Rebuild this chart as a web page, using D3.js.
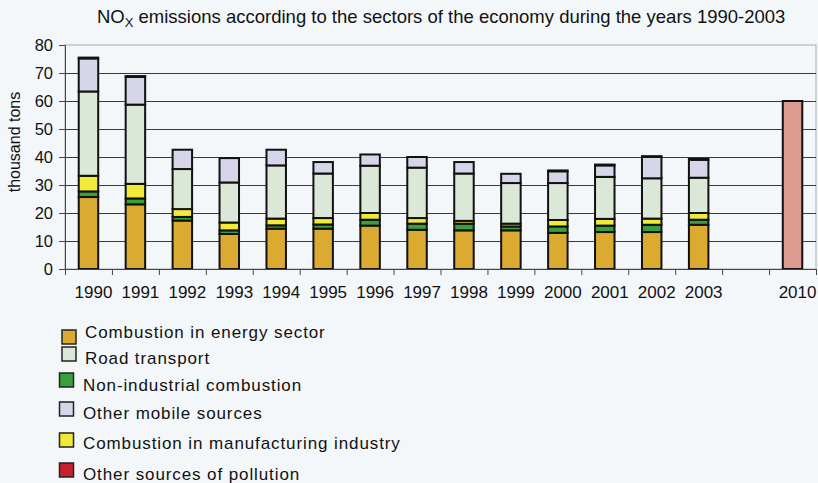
<!DOCTYPE html>
<html>
<head>
<meta charset="utf-8">
<script src="https://cdn.jsdelivr.net/npm/d3@7"></script>
<style>
  html, body { margin: 0; padding: 0; background: #f4f7f9; }
  svg { display: block; }
  text { font-family: "Liberation Sans", Arial, sans-serif; fill: #111; }
</style>
</head>
<body>
<svg id="chart" width="818" height="483"></svg>
<script>
// NOx emissions by sector, thousand tons
const years = ["1990","1991","1992","1993","1994","1995","1996","1997","1998","1999","2000","2001","2002","2003"];
const energySector   = [25.7, 23.1, 17.3, 12.5, 14.4, 14.4, 15.5, 14.0, 13.8, 13.8, 12.9, 13.2, 13.2, 15.8];
const nonIndustrial  = [ 2.0,  2.1,  1.3,  1.3,  1.2,  1.5,  2.1,  2.2,  2.4,  1.4,  2.3,  2.3,  2.6,  1.8];
const manufacturing  = [ 5.6,  5.2,  2.8,  2.8,  2.4,  2.3,  2.4,  2.0,  1.0,  1.0,  2.3,  2.4,  2.2,  2.4];
const roadTransport  = [30.1, 28.3, 14.3, 14.3, 19.0, 15.9, 16.9, 18.0, 16.9, 14.5, 13.2, 15.0, 14.4, 12.6];
const otherMobile    = [11.8,  9.9,  6.9,  8.7,  5.6,  4.1,  4.0,  3.8,  4.1,  3.3,  4.2,  4.1,  7.6,  6.4];
const otherSources   = [ 0.3,  0.3,  0.0,  0.0,  0.0,  0.0,  0.0,  0.0,  0.0,  0.0,  0.3,  0.3,  0.3,  0.3];
const targetYear = "2010";
const targetValue = [60];
const yTicks = [0, 10, 20, 30, 40, 50, 60, 70, 80];

const seriesInfo = [
  { key: "energy",  name: "Combustion in energy sector",          values: energySector,  color: "#dbab31" },
  { key: "road",    name: "Road transport",                       values: roadTransport, color: "#dce8d7" },
  { key: "nonind",  name: "Non-industrial combustion",            values: nonIndustrial, color: "#38a03c" },
  { key: "mobile",  name: "Other mobile sources",                 values: otherMobile,   color: "#d7d5e9" },
  { key: "manuf",   name: "Combustion in manufacturing industry", values: manufacturing, color: "#f2ea38" },
  { key: "other",   name: "Other sources of pollution",           values: otherSources,  color: "#c8202e" }
];
// stacking order, bottom to top
const stackKeys = ["energy", "nonind", "manuf", "road", "mobile", "other"];
const colorOf = Object.fromEntries(seriesInfo.map(s => [s.key, s.color]));

const rows = years.map((y, i) => {
  const r = { year: y };
  seriesInfo.forEach(s => r[s.key] = s.values[i]);
  return r;
});

const svg = d3.select("#chart");
const plot = { left: 65, right: 816, top: 45, bottom: 269 };

const categories = [...years, "", targetYear];
const x = d3.scaleBand()
  .domain(categories)
  .range([plot.left, plot.right])
  .paddingInner(0.585)
  .paddingOuter(0.2925);
const y = d3.scaleLinear().domain([0, 80]).range([plot.bottom, plot.top]);

// title
const title = svg.append("text")
  .attr("x", 97).attr("y", 23)
  .style("font-size", "18.5px");
title.append("tspan").text("NO");
title.append("tspan").attr("dy", 4).style("font-size", "13px").text("X");
title.append("tspan").attr("dy", -4).text(" emissions according to the sectors of the economy during the years 1990-2003");

// plot frame
svg.append("rect")
  .attr("x", plot.left).attr("y", plot.top)
  .attr("width", plot.right - plot.left).attr("height", plot.bottom - plot.top)
  .attr("fill", "none").attr("stroke", "#a9adb0").attr("stroke-width", 1);

// gridlines
svg.append("g").selectAll("line")
  .data(yTicks.filter(t => t > 0 && t < 80))
  .join("line")
  .attr("x1", plot.left).attr("x2", plot.right)
  .attr("y1", d => Math.round(y(d)) + 0.5).attr("y2", d => Math.round(y(d)) + 0.5)
  .attr("stroke", "#3a3a3a").attr("stroke-width", 1);

// stacked bars
const stacked = d3.stack().keys(stackKeys)(rows);
const barGroup = svg.append("g");
stacked.forEach(layer => {
  barGroup.append("g")
    .selectAll("rect")
    .data(layer.filter(d => d[1] - d[0] > 0))
    .join("rect")
    .attr("x", d => x(d.data.year))
    .attr("width", x.bandwidth())
    .attr("y", d => y(d[1]))
    .attr("height", d => y(d[0]) - y(d[1]))
    .attr("fill", colorOf[layer.key])
    .attr("stroke", "#111")
    .attr("stroke-width", 2);
});

// 2010 bar
svg.append("g").selectAll("rect")
  .data(targetValue)
  .join("rect")
  .attr("x", x(targetYear))
  .attr("width", x.bandwidth())
  .attr("y", d => y(d))
  .attr("height", d => y(0) - y(d))
  .attr("fill", "#dc9a90")
  .attr("stroke", "#111")
  .attr("stroke-width", 2);

// y axis
const yAxis = d3.axisLeft(y).tickValues(yTicks).tickSize(6).tickPadding(6);
const gy = svg.append("g").attr("transform", `translate(${plot.left},0)`).call(yAxis);
gy.select(".domain").attr("stroke", "#444");
gy.selectAll(".tick line").attr("stroke", "#444");
gy.selectAll(".tick text").style("font-size", "16.5px").attr("fill", "#111")
  .style("font-family", "'Liberation Sans', Arial, sans-serif");

// x axis: tick marks on category boundaries, labels centred in categories
const boundaries = d3.range(categories.length + 1);
const xb = d3.scaleLinear().domain([0, categories.length]).range([plot.left, plot.right]);
const gxTicks = svg.append("g").attr("transform", `translate(0,${plot.bottom})`)
  .call(d3.axisBottom(xb).tickValues(boundaries).tickSize(6).tickFormat(""));
gxTicks.select(".domain").attr("stroke", "#444");
gxTicks.selectAll(".tick line").attr("stroke", "#444");

const gx = svg.append("g").attr("transform", `translate(5,${plot.bottom})`)
  .call(d3.axisBottom(x).tickSize(0).tickPadding(17));
gx.select(".domain").remove();
gx.selectAll(".tick text").style("font-size", "17px").attr("fill", "#111")
  .style("font-family", "'Liberation Sans', Arial, sans-serif");

// y axis title
svg.append("text")
  .attr("transform", "translate(20,142) rotate(-90)")
  .attr("text-anchor", "middle")
  .style("font-size", "16px")
  .text("thousand tons");

// legend
const legendRows = [
  { sx: 62, sy: 330, tx: 85, ty: 338 },
  { sx: 62, sy: 347, tx: 85, ty: 364 },
  { sx: 59.5, sy: 373, tx: 83, ty: 391 },
  { sx: 59.5, sy: 402, tx: 83, ty: 419 },
  { sx: 59.5, sy: 433, tx: 83, ty: 449 },
  { sx: 59.5, sy: 463, tx: 83, ty: 480 }
];
const legend = svg.append("g");
seriesInfo.forEach((s, i) => {
  const p = legendRows[i];
  legend.append("rect")
    .attr("x", p.sx).attr("y", p.sy).attr("width", 14).attr("height", 14)
    .attr("fill", s.color).attr("stroke", "#222").attr("stroke-width", 1.5);
  legend.append("text")
    .attr("x", p.tx).attr("y", p.ty)
    .style("font-size", "17px").style("letter-spacing", "0.9px")
    .text(s.name);
});
</script>
</body>
</html>
